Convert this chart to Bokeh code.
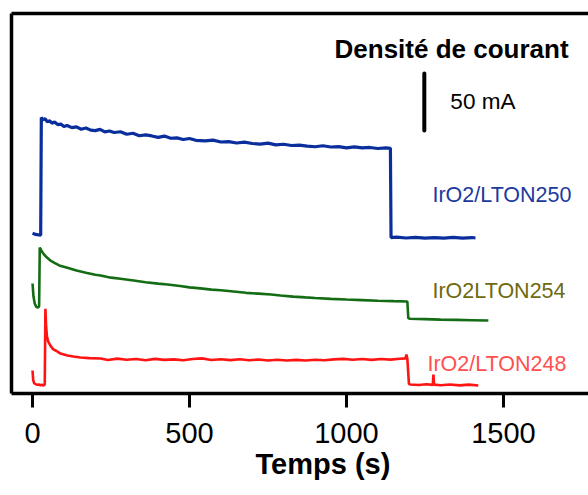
from bokeh.plotting import figure
from bokeh.models import Range1d, LinearAxis, FixedTicker, Title
from bokeh.core.properties import value
from bokeh.embed import file_html
from bokeh.resources import INLINE

# ---- data (time in s, current density in mA, curves offset vertically) ----
t_250 = [0, 10, 26, 28, 33, 40, 47, 55, 62, 70, 80, 90, 100, 110, 125, 140, 155, 170, 185, 200,
         215, 230, 245, 260, 280, 300, 320, 340, 360, 380, 400, 420, 440, 460, 480, 500, 520, 550,
         575, 600, 625, 650, 675, 700, 725, 750, 775, 800, 825, 850, 875, 900, 925, 950, 975, 1000,
         1025, 1050, 1075, 1100, 1125, 1140, 1142, 1160, 1190, 1220, 1250, 1280, 1310, 1340, 1370,
         1400, 1411]
i_250 = [140.5, 139.5, 138.8, 242.0, 240.2, 240.9, 238.4, 239.1, 237.0, 238.2, 235.9, 236.3, 234.1,
         235.0, 233.2, 233.9, 231.8, 232.9, 231.0, 230.6, 231.7, 229.5, 230.2, 228.9, 229.6, 227.4,
         228.3, 226.1, 226.9, 225.9, 224.6, 225.8, 223.9, 224.2, 222.8, 223.7, 222.1, 221.5, 222.2,
         220.6, 220.9, 219.7, 220.5, 219.3, 218.8, 219.6, 218.1, 218.6, 217.5, 217.9, 217.0, 216.4,
         217.3, 216.2, 216.6, 215.5, 216.3, 215.4, 215.8, 214.9, 215.5, 215.0, 136.8, 137.2, 136.4,
         137.0, 136.2, 136.8, 136.3, 137.0, 136.2, 136.8, 136.4]

t_254 = [0, 3, 7, 12, 17, 21, 23, 28, 35, 45, 57, 70, 85, 111, 140, 170, 200, 217, 250, 280, 322,
         360, 400, 430, 470, 500, 535, 570, 600, 640, 680, 720, 760, 790, 830, 870, 900, 950, 1000,
         1050, 1100, 1150, 1194, 1197, 1203, 1250, 1300, 1350, 1400, 1452]
i_254 = [96.5, 85.0, 79.0, 76.0, 75.4, 76.5, 128.0, 125.5, 122.5, 119.5, 116.6, 114.5, 112.3, 110.2,
         107.8, 105.9, 104.2, 103.5, 101.6, 100.6, 99.1, 97.6, 96.4, 95.6, 94.3, 93.1, 92.2, 91.1,
         90.5, 89.5, 88.3, 87.6, 86.8, 85.9, 85.0, 84.3, 83.8, 83.0, 82.4, 81.9, 81.4, 81.0, 80.7,
         66.0, 65.6, 65.2, 64.8, 64.6, 64.3, 64.0]

t_248 = [0, 2, 5, 10, 15, 20, 25, 30, 35, 39, 41, 43, 46, 50, 57, 65, 75, 89, 111, 130, 153, 180, 217,
         240, 270, 300, 330, 360, 390, 420, 450, 480, 510, 540, 570, 600, 630, 660, 690, 720, 750, 780,
         810, 840, 870, 900, 930, 960, 990, 1020, 1050, 1080, 1110, 1140, 1170, 1188, 1191, 1194, 1199,
         1203, 1230, 1255, 1275, 1277, 1279, 1300, 1330, 1360, 1390, 1420]
i_248 = [20.2, 12.0, 9.0, 8.2, 7.6, 7.9, 7.2, 7.7, 7.0, 8.0, 74.3, 60.0, 50.0, 45.5, 42.0, 39.0, 37.5,
         35.0, 33.3, 32.5, 31.6, 31.0, 30.7, 29.4, 30.6, 29.6, 30.3, 29.2, 30.4, 29.5, 29.9, 29.1, 30.2,
         30.8, 29.4, 30.1, 29.3, 30.0, 29.2, 29.8, 29.0, 29.6, 28.9, 29.5, 29.0, 29.6, 29.1, 29.9, 30.4,
         29.6, 30.2, 29.5, 30.3, 29.7, 30.5, 30.8, 34.2, 30.5, 8.5, 7.9, 7.4, 8.1, 7.6, 16.7, 7.8, 7.2,
         7.9, 7.1, 7.8, 7.0]

x_ticks = [0, 500, 1000, 1500]
series_names = ["IrO2/LTON250", "IrO2LTON254", "IrO2/LTON248"]
scale_value = 50          # mA, length of the scale bar
scale_x = 1248            # s
scale_bottom = 230.6      # mA (offset)

# ---- figure ----
p = figure(width=588, height=495, output_backend="svg", toolbar_location=None,
           x_range=Range1d(-67, 1771), y_range=Range1d(0, 333.3),
           min_border_left=11, min_border_right=0, min_border_top=13, min_border_bottom=102)
p.outline_line_color = None
p.grid.visible = False
p.background_fill_color = "white"
p.border_fill_color = "white"

# bottom axis
ax = p.xaxis[0]
ax.ticker = FixedTicker(ticks=x_ticks)
ax.axis_line_width = 3.5
ax.axis_line_color = "black"
ax.major_tick_line_width = 3
ax.major_tick_out = 14
ax.major_tick_in = 0
ax.minor_tick_out = 0
ax.minor_tick_in = 0
ax.major_label_text_font = "Liberation Sans"
ax.major_label_text_font_size = "29px"
ax.major_label_text_color = "black"
ax.major_label_standoff = 15

# left axis used as the frame border
ay = p.yaxis[0]
ay.ticker = FixedTicker(ticks=[])
ay.axis_line_width = 3.5
ay.axis_line_color = "black"
ay.major_tick_out = 0
ay.major_tick_in = 0
ay.minor_tick_out = 0
ay.minor_tick_in = 0
ay.major_label_standoff = 0

top = LinearAxis(ticker=FixedTicker(ticks=[]), axis_line_width=3.5, axis_line_color="black",
                 major_tick_out=0, major_tick_in=0, minor_tick_out=0, minor_tick_in=0,
                 major_label_standoff=0)
p.add_layout(top, "above")

# invisible spacer panel between the tick labels and the axis title
spacer = LinearAxis(ticker=FixedTicker(ticks=[]), axis_line_color=None,
                    major_tick_out=8, major_tick_in=0, minor_tick_out=0, minor_tick_in=0,
                    major_label_standoff=0)
p.add_layout(spacer, "below")

# x-axis title (the original frame was wider, so the title sits right of centre)
p.add_layout(Title(text="Temps (s)", align="left", offset=244, text_font="Liberation Sans",
                   text_font_size="29px", text_font_style="bold", text_color="black",
                   standoff=0, vertical_align="bottom"), "below")

# curves
p.line(t_250, i_250, line_color="#0a2f9c", line_width=3.2)
p.line(t_254, i_254, line_color="#146c14", line_width=2.6)
p.line(t_248, i_248, line_color="#ff1414", line_width=2.6)

# scale bar
p.segment(x0=[scale_x], y0=[scale_bottom], x1=[scale_x], y1=[scale_bottom + scale_value],
          line_color="black", line_width=4, line_cap="round")

lab_font = value("Liberation Sans")
p.text(x=[962], y=[302.6], text=["Densité de courant"], text_font=lab_font,
       text_font_size="26px", text_font_style="bold", text_color="black",
       text_align="left", text_baseline="middle")
p.text(x=[1331], y=[256], text=["%d mA" % scale_value], text_font=lab_font,
       text_font_size="22.5px", text_color="black", text_align="left", text_baseline="middle")
p.text(x=[1274, 1274, 1258], y=[174.1, 89.9, 26.3], text=series_names, text_font=lab_font,
       text_font_size="21.5px", text_color=["#1c3a9e", "#6e6a10", "#ff5050"],
       text_align="left", text_baseline="middle")

open("out.html", "w").write(file_html(p, INLINE))
